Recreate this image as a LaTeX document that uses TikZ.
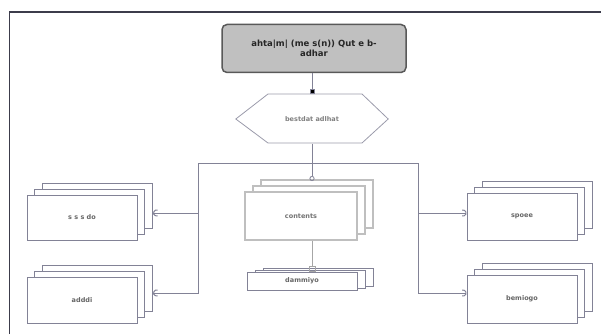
\documentclass[tikz,border=0pt]{standalone}
\usepackage{fontspec}
\setmainfont{DejaVu Sans}
\usetikzlibrary{shadows,arrows.meta}
\definecolor{lineC}{RGB}{130,130,150}
\definecolor{frameC}{RGB}{60,60,75}
\definecolor{topfill}{RGB}{192,192,192}
\begin{document}
\begin{tikzpicture}[x=1pt,y=-1pt,
  conn/.style={draw=lineC,line width=0.8pt},
  stackbox/.style={draw=lineC,line width=0.8pt,fill=white,minimum width=110pt,minimum height=45pt,
    font=\fontsize{6.5}{7.5}\selectfont\bfseries,text=black!60,
    double copy shadow={shadow xshift=7.5pt,shadow yshift=6pt,draw=lineC,fill=white}},
  barb/.style={-{Arc Barb[arc=220,length=3.5pt,width=7pt,line width=1pt]}},
]
\useasboundingbox (0,0) rectangle (601,334);
% frame
\draw[frameC,line width=1.6pt] (9.5,334) -- (9.5,12) -- (601,12);
% top node
\node[draw=black!65,line width=1.5pt,fill=topfill,rounded corners=5pt,
  minimum width=184pt,minimum height=48pt,align=center,
  font=\fontsize{8.5}{10.5}\selectfont\bfseries,text=black!85] (top) at (314,48.5)
  {ahta|m| (me s(n)) Qut e b-\\adhar};
% hexagon
\node[minimum width=152pt,minimum height=49pt,font=\fontsize{6.5}{7.5}\selectfont\bfseries,text=black!50] (hex) at (312,119) {bestdat adlhat};
\draw[lineC!80,line width=0.8pt] (hex.west) -- (268,94) -- (362,94) -- (hex.east) -- (362,143) -- (268,143) -- cycle;
\draw[conn,-{Square[length=5pt,width=5pt,fill=black]}] (top.south -| hex.north) -- (hex.north);
% bus
\coordinate (j) at (hex.south |- 0,163);
\coordinate (jl) at (198.5,163);
\coordinate (jr) at (418,163);
\draw[conn] (hex.south) -- (j);
\draw[conn] (jl) -- (jr);
% left boxes
\node[stackbox] (tl) at (82,217.5) {s s s do};
\node[stackbox,minimum height=46pt] (bl) at (82,300) {adddi};
\coordinate (tle) at (153,213);
\coordinate (ble) at (153,293);
\draw[conn,barb] (jl) |- (tle);
\draw[conn,barb] (jl) |- (ble);
% right boxes
\node[stackbox,minimum height=47pt] (tr) at (522,216.5) {spoee};
\node[stackbox,minimum height=48pt] (br) at (522,299) {bemiogo};
\draw[conn,barb] (jr) |- (tr.west |- 0,213);
\draw[conn,barb] (jr) |- (br.west |- 0,293);
% center
\node[draw=black!25,line width=1.2pt,fill=white,minimum width=112pt,minimum height=48pt,
  font=\fontsize{6.5}{7.5}\selectfont\bfseries,text=black!55,
  double copy shadow={shadow xshift=8pt,shadow yshift=6pt,draw=black!25,fill=white}] (ctr) at (301,216) {contents};
\coordinate (ctop) at (j |- 0,181);
\draw[conn,-{Circle[open,length=5pt,width=5pt]}] (j) -- (ctop);
\node[draw=lineC,line width=0.8pt,fill=white,minimum width=110pt,minimum height=18pt,
  font=\fontsize{6.5}{7.5}\selectfont\bfseries,text=black!60,
  double copy shadow={shadow xshift=8pt,shadow yshift=2pt,draw=lineC,fill=white}] (bc) at (302,281) {dammiyo};
\draw[draw=black!35,line width=0.8pt,-{Square[open,length=6pt,width=7pt]}] (ctr.south -| j) -- (bc.north -| j);
\end{tikzpicture}
\end{document}
